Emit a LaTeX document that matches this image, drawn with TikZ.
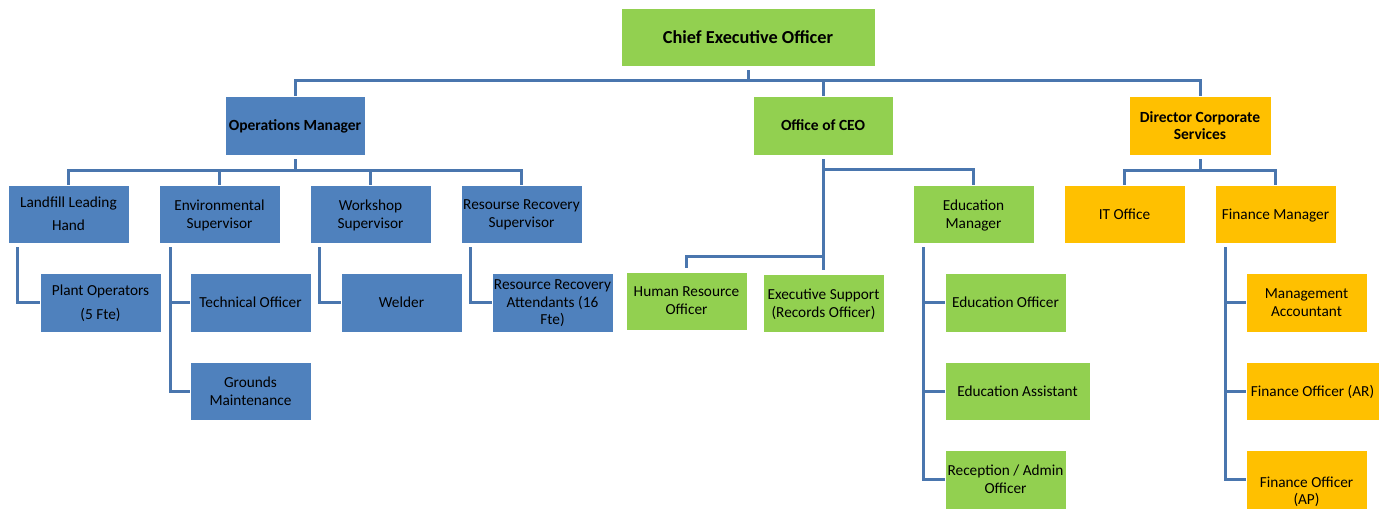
\documentclass[tikz,border=0pt]{standalone}
\usepackage{fontspec}
\setmainfont{Carlito}
\usetikzlibrary{calc}
\definecolor{bluef}{HTML}{4F81BD}
\definecolor{greenf}{HTML}{92D050}
\definecolor{orangef}{HTML}{FFC000}
\definecolor{connc}{HTML}{4A76AE}
\tikzset{
  box/.style={draw=white, line width=0.8pt, align=center, inner sep=0pt,
    text depth=-6pt, font=\fontsize{15.3}{18}\selectfont, text=black},
  bluebox/.style={box, fill=bluef},
  greenbox/.style={box, fill=greenf},
  orangebox/.style={box, fill=orangef},
  bold/.style={font=\fontsize{15.5}{17}\selectfont\bfseries},
  conn/.style={draw=connc, line width=3pt},
}
\begin{document}
\begin{tikzpicture}[x=1pt,y=-1pt]
\useasboundingbox (0,0) rectangle (1386,510);
% level 1
\node[greenbox, font=\fontsize{18.3}{20}\selectfont\bfseries, minimum width=254pt, minimum height=58pt] (ceo) at (748,37) {Chief Executive Officer};
% level 2
\node[bluebox, bold, minimum width=140pt, minimum height=59pt] (ops) at (295,125.5) {Operations Manager};
\node[greenbox, bold, minimum width=140pt, minimum height=59pt] (oc) at (823,125.5) {Office of CEO};
\node[orangebox, bold, minimum width=142pt, minimum height=59pt] (dcs) at (1200,125.5) {Director Corporate\\Services};
% level 3 operations
\node[bluebox, minimum width=121pt, minimum height=58pt, font=\fontsize{15.3}{23}\selectfont] (lh) at (68.5,214) {Landfill Leading\\Hand};
\node[bluebox, minimum width=121pt, minimum height=58pt] (env) at (219.5,214) {Environmental\\Supervisor};
\node[bluebox, minimum width=121pt, minimum height=58pt] (ws) at (370.5,214) {Workshop\\Supervisor};
\node[bluebox, minimum width=121pt, minimum height=58pt] (rs) at (521.5,214) {Resourse Recovery\\Supervisor};
% level 4 operations
\node[bluebox, minimum width=121pt, minimum height=59pt, font=\fontsize{15.3}{24}\selectfont] (po) at (100.5,302.5) {Plant Operators\\(5 Fte)};
\node[bluebox, minimum width=121pt, minimum height=59pt] (to) at (250.5,302.5) {Technical Officer};
\node[bluebox, minimum width=121pt, minimum height=58pt] (gm) at (250.5,391) {Grounds\\Maintenance};
\node[bluebox, minimum width=121pt, minimum height=59pt] (wd) at (401.5,302.5) {Welder};
\node[bluebox, minimum width=121pt, minimum height=59pt, font=\fontsize{15.3}{17.5}\selectfont] (rra) at (552.5,302.5) {Resource Recovery\\Attendants (16\\Fte)};
% office of CEO children
\node[greenbox, minimum width=121pt, minimum height=58pt] (hr) at (686.5,301) {Human Resource\\Officer};
\node[greenbox, minimum width=121pt, minimum height=58pt] (ex) at (823.5,303) {Executive Support\\(Records Officer)};
\node[greenbox, minimum width=121pt, minimum height=58pt] (em) at (973.5,214) {Education\\Manager};
\node[greenbox, minimum width=121pt, minimum height=59pt] (eo) at (1005.5,302.5) {Education Officer};
\node[greenbox, minimum width=145pt, minimum height=58pt] (ea) at (1017.5,391) {Education Assistant};
\node[greenbox, minimum width=121pt, minimum height=59pt] (ra) at (1005.5,479.5) {Reception / Admin\\Officer};
% corporate services
\node[orangebox, minimum width=121pt, minimum height=58pt] (it) at (1124.5,214) {IT Office};
\node[orangebox, minimum width=121pt, minimum height=58pt] (fm) at (1275.5,214) {Finance Manager};
\node[orangebox, minimum width=121pt, minimum height=59pt] (ma) at (1306.5,302.5) {Management\\Accountant};
\node[orangebox, minimum width=133pt, minimum height=58pt] (far) at (1312.5,391) {Finance Officer (AR)};
\node[orangebox, minimum width=121pt, minimum height=59pt] (fap) at (1306.5,479.5) {};
\node[anchor=north, align=center, font=\fontsize{15.3}{17}\selectfont, inner sep=0pt] (faptext) at (1306.5,476.5) {Finance Officer\\(AP)};
% connectors level 1-2
\coordinate (bus1) at ($(ceo.south)+(0,14)$);
\draw[conn, shorten <=4pt] (ceo.south) -- (bus1);
\draw[conn] (ops.north) |- (bus1) -| (dcs.north);
\draw[conn] (oc.north) -- (oc.north |- bus1);
% operations
\coordinate (bus2) at ($(ops.south)+(0,15.5)$);
\draw[conn, shorten <=4pt] (ops.south) -- (bus2);
\draw[conn] (lh.north) |- (bus2) -| (rs.north);
\draw[conn] (env.north) -- (env.north |- bus2);
\draw[conn] (ws.north) -- (ws.north |- bus2);
\coordinate (lhc) at ($(lh.south west)+(10,4)$);
\draw[conn] (lhc) |- (po.west);
\coordinate (envc) at ($(env.south west)+(12,4)$);
\draw[conn] (envc) |- (gm.west);
\draw[conn] (envc |- to.west) -- (to.west);
\coordinate (wsc) at ($(ws.south west)+(10,4)$);
\draw[conn] (wsc) |- (wd.west);
\coordinate (rsc) at ($(rs.south west)+(10,4)$);
\draw[conn] (rsc) |- (rra.west);
% office of CEO
\draw[conn, shorten <=4pt, shorten >=4pt] (oc.south) -- (oc.south |- ex.north);
\draw[conn] ($(oc.south)+(0,14)$) -| (em.north);
\draw[conn, shorten <=4pt] (hr.north) |- ($(ex.north)+(0,-17)$);
\coordinate (emc) at ($(em.south west)+(11,4)$);
\draw[conn] (emc) |- (ra.west);
\draw[conn] (emc |- eo.west) -- (eo.west);
\draw[conn] (emc |- ea.west) -- (ea.west);
% corporate services
\coordinate (bus3) at ($(dcs.south)+(0,15.5)$);
\draw[conn, shorten <=4pt] (dcs.south) -- (bus3);
\draw[conn] (it.north) |- (bus3) -| (fm.north);
\coordinate (fmc) at ($(fm.south west)+(11,4)$);
\draw[conn] (fmc) |- (fap.west);
\draw[conn] (fmc |- ma.west) -- (ma.west);
\draw[conn] (fmc |- far.west) -- (far.west);
\end{tikzpicture}
\end{document}
